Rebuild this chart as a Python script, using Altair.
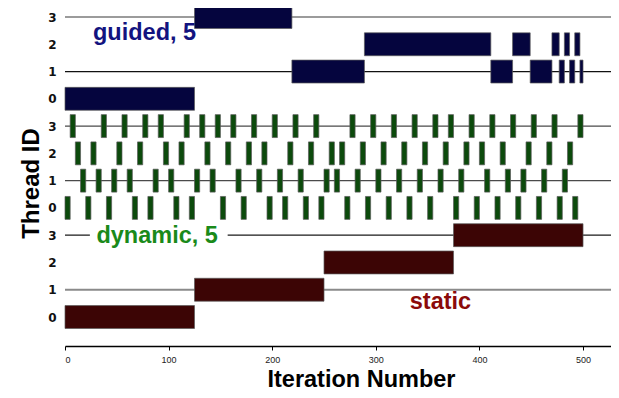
import altair as alt
import pandas as pd

# ---------------- data ----------------
static_thread = [0, 1, 2, 3]
static_start = [0, 125, 250, 375]
static_end = [125, 250, 375, 500]

guided_thread = [0, 3, 1, 2, 1, 2, 1, 2, 1, 2, 1, 2, 1]
guided_start = [0, 125, 219, 289, 411, 432, 449, 470, 477, 482, 487, 492, 497]
guided_end = [125, 219, 289, 411, 432, 449, 470, 477, 482, 487, 492, 497, 500]

dynamic_chunk = 5
dynamic_t0 = [0, 20, 40, 65, 80, 105, 120, 150, 170, 195, 210, 230, 245, 270, 290,
              310, 330, 350, 375, 395, 415, 435, 455, 475, 490]
dynamic_t1 = [15, 30, 45, 60, 85, 100, 125, 140, 165, 185, 205, 225, 250, 260, 280,
              300, 320, 340, 360, 380, 405, 425, 440, 460, 480]
dynamic_t2 = [10, 25, 50, 70, 95, 110, 135, 155, 175, 190, 215, 235, 255, 265, 285,
              305, 325, 345, 365, 385, 400, 420, 445, 465, 485]
dynamic_t3 = [5, 35, 55, 75, 90, 115, 130, 145, 160, 180, 200, 220, 240, 275, 295,
              315, 335, 355, 370, 390, 410, 430, 450, 470, 495]

group_offset = {"static": 0, "dynamic": 4, "guided": 8}
y_ticks = list(range(12))
x_ticks = [0, 100, 200, 300, 400, 500]

line_row = [1, 3, 5, 7, 9, 11]
line_color = ["#8a8a8a", "#1a1a1a", "#4a4a4a", "#4a4a4a", "#111111", "#7a7a7a"]
line_width = [2.0, 1.2, 1.2, 1.2, 1.2, 1.5]

label_text = ["guided, 5", "dynamic, 5", "static"]
label_x = [27, 30.3, 332.8]
label_y = [10.16, 2.70, 0.28]
label_color = ["#13137f", "#1a8a1a", "#8b0a0a"]

# ---------------- tables ----------------
rows = []
for t, s, e in zip(static_thread, static_start, static_end):
    rows.append({"schedule": "static", "thread": t, "start": s, "end": e})
for t, s, e in zip(guided_thread, guided_start, guided_end):
    rows.append({"schedule": "guided", "thread": t, "start": s, "end": e})
for t, lst in enumerate([dynamic_t0, dynamic_t1, dynamic_t2, dynamic_t3]):
    for s in lst:
        rows.append({"schedule": "dynamic", "thread": t, "start": s, "end": s + dynamic_chunk})
bars = pd.DataFrame(rows)
bars["row"] = bars["schedule"].map(group_offset) + bars["thread"]

lines = pd.DataFrame({"row": line_row, "c": line_color, "w": line_width})
labels = pd.DataFrame({"text": label_text, "x": label_x, "y": label_y, "c": label_color})
bg = pd.DataFrame({"x": [24], "x2": [157], "y": [2.8], "y2": [3.2]})

W, H = 546, 338
XMAX = 527
xscale = alt.Scale(domain=[0, XMAX], nice=False, zero=False)
yscale = alt.Scale(domain=[-1.063, 11.33], nice=False, zero=False)

xaxis = alt.Axis(values=x_ticks, title="Iteration Number", grid=False,
                 labelFont="Liberation Sans", labelFontSize=9, labelColor="#222",
                 labelPadding=5, tickSize=4, tickColor="#000", domainColor="#000",
                 domainWidth=1.5, titleFont="Liberation Sans", titleFontSize=23.5,
                 titleFontWeight="bold", titleColor="#000", titleX=296, titleY=40,
                 titleAlign="center", titleBaseline="alphabetic")
yaxis = alt.Axis(values=y_ticks, labelExpr="datum.value % 4", title="Thread ID",
                 grid=False, ticks=False, domain=False, labelFont="DejaVu Sans",
                 labelFontSize=12, labelFontWeight="bold", labelColor="#111",
                 labelPadding=9, labelOverlap=False, titleFont="Liberation Sans",
                 titleFontSize=24, titleFontWeight="bold", titleColor="#000",
                 titleX=-34, titleY=175, titleAngle=270, titleAlign="center",
                 titleBaseline="middle")

rules = alt.Chart(lines).mark_rule().encode(
    y=alt.Y("row:Q", scale=yscale, axis=yaxis),
    x=alt.datum(0, scale=xscale, axis=xaxis),
    x2=alt.datum(XMAX),
    color=alt.Color("c:N", scale=None),
    strokeWidth=alt.StrokeWidth("w:Q", scale=None),
)

bgrect = alt.Chart(bg).mark_rect(color="white").encode(
    x=alt.X("x:Q", scale=xscale, axis=xaxis), x2="x2:Q",
    y=alt.Y("y:Q", scale=yscale, axis=yaxis), y2="y2:Q",
)

rects = alt.Chart(bars).transform_calculate(
    y0="datum.row - 0.42", y1="datum.row + 0.42"
).mark_rect(stroke="#5a5a5a", strokeWidth=0.7).encode(
    x=alt.X("start:Q", scale=xscale, axis=xaxis), x2="end:Q",
    y=alt.Y("y0:Q", scale=yscale, axis=yaxis), y2="y1:Q",
    color=alt.Color("schedule:N", legend=None,
                    scale=alt.Scale(domain=["static", "dynamic", "guided"],
                                    range=["#3c0505", "#0c4a0c", "#05053e"])),
)

texts = alt.Chart(labels).mark_text(
    font="Liberation Sans", fontSize=23.5, fontWeight="bold", align="left",
    baseline="alphabetic"
).encode(
    x=alt.X("x:Q", scale=xscale, axis=xaxis), y=alt.Y("y:Q", scale=yscale, axis=yaxis),
    text="text:N", color=alt.Color("c:N", scale=None),
)

chart = alt.layer(rules, bgrect, rects, texts).properties(
    width=W, height=H,
    autosize=alt.AutoSizeParams(type="none"),
    padding={"left": 57, "top": 0, "right": 0, "bottom": 44},
).configure_view(stroke=None).configure_axis(labelOverlap=False)

chart.save("out.html", embed_options={"renderer": "svg", "actions": False})
